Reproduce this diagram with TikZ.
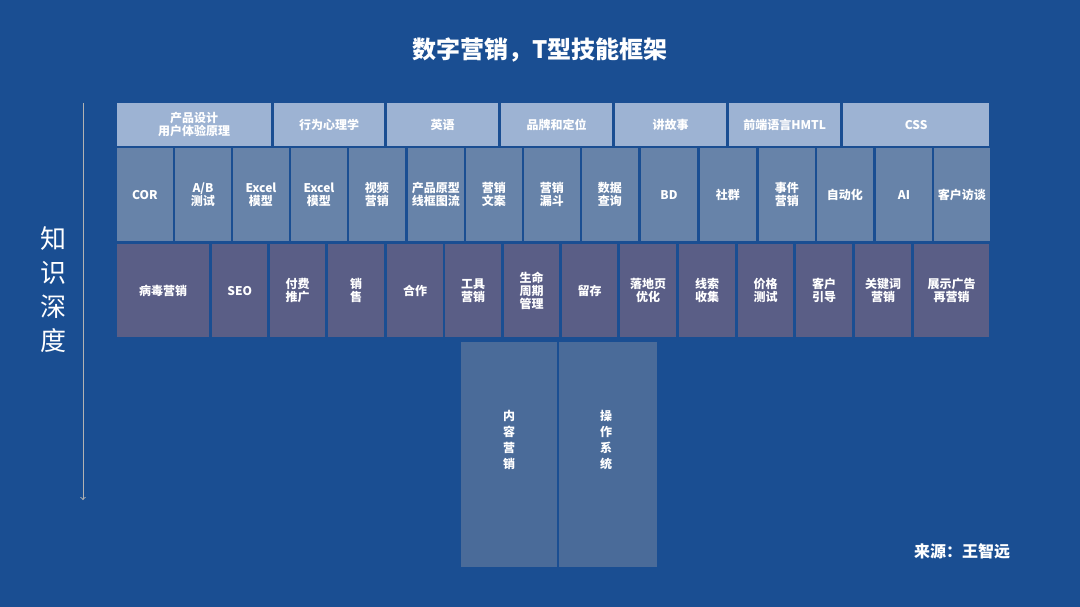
\documentclass[tikz,border=0pt]{standalone}
\usepackage{fontspec}
\setmainfont{Liberation Serif}
\newfontfamily\cjk{Noto Sans CJK SC}
\begin{document}
\begin{tikzpicture}[x=1pt,y=-1pt,
  cell/.style={anchor=north west,inner sep=0pt,text=white,align=center,font=\cjk\bfseries\fontsize{12}{13}\selectfont},
  top/.style={cell,fill=topc},
  mid/.style={cell,fill=midc},
  bot/.style={cell,fill=botc},
  col/.style={cell,fill=colc}]
\definecolor{bg}{HTML}{1A4E92}
\definecolor{topc}{HTML}{9DB3D3}
\definecolor{midc}{HTML}{6783A9}
\definecolor{botc}{HTML}{5A5E86}
\definecolor{colc}{HTML}{4A6B99}
\fill[bg] (0,0) rectangle (1080,607);
\useasboundingbox (0,0) rectangle (1080,607);
\node[text=white,font=\cjk\bfseries\fontsize{24}{26}\selectfont] (title) at (540,50) {数字营销，T型技能框架};
% top row
\foreach \a/\b/\t [count=\i] in {117/271/{产品设计\\用户体验原理},274/384/行为心理学,387/498/英语,501/612/品牌和定位,615/726/讲故事,729/840/前端语言HMTL,843/989/CSS}
  \node[top,minimum width={\b-\a},minimum height=43] (t\i) at (\a,103) {\t};
% middle row
\foreach \a/\t [count=\i] in {117/COR,175/{A/B\\测试},233/{Excel\\模型},291/{Excel\\模型},349/{视频\\营销},408/{产品原型\\线框图流},466/{营销\\文案},524/{营销\\漏斗},582/{数据\\查询},641/BD,700/社群,759/{事件\\营销},817/自动化,876/AI,934/客户访谈}
  \node[mid,minimum width=55.5,minimum height=93] (m\i) at (\a,148) {\t};
% bottom row
\foreach \a/\b/\t [count=\i] in {117/209/病毒营销,212/267/SEO,270/325/{付费\\推广},328/384/{销\\售},387/443/合作,445/501/{工具\\营销},504/559/{生命\\周期\\管理},562/617/留存,620/676/{落地页\\优化},679/735/{线索\\收集},738/793/{价格\\测试},796/852/{客户\\引导},855/911/{关键词\\营销},914/989/{展示广告\\再营销}}
  \node[bot,minimum width={\b-\a},minimum height=93] (b\i) at (\a,244) {\t};
% column
\node[col,minimum width=96,minimum height=225] (c1) at (461,342) {};
\node[col,minimum width=98,minimum height=225] (c2) at (559,342) {};
\node[text=white,font=\cjk\bfseries\fontsize{12}{16}\selectfont,align=center] (c1t) at (509,440) {内\\容\\营\\销};
\node[text=white,font=\cjk\bfseries\fontsize{12}{16}\selectfont,align=center] (c2t) at (606,440) {操\\作\\系\\统};
% axis
\coordinate (a0) at (83,103);
\coordinate (a1) at (83,500);
\draw[gray!60,line width=1pt,->] (a0) -- (a1);
\node[text=white,font=\cjk\fontsize{26}{34}\selectfont,align=center] (depth) at (53,290) {知\\识\\深\\度};
\node[text=white,font=\cjk\bfseries\fontsize{16}{18}\selectfont] (src) at (962,551) {来源：王智远};
\end{tikzpicture}
\end{document}
